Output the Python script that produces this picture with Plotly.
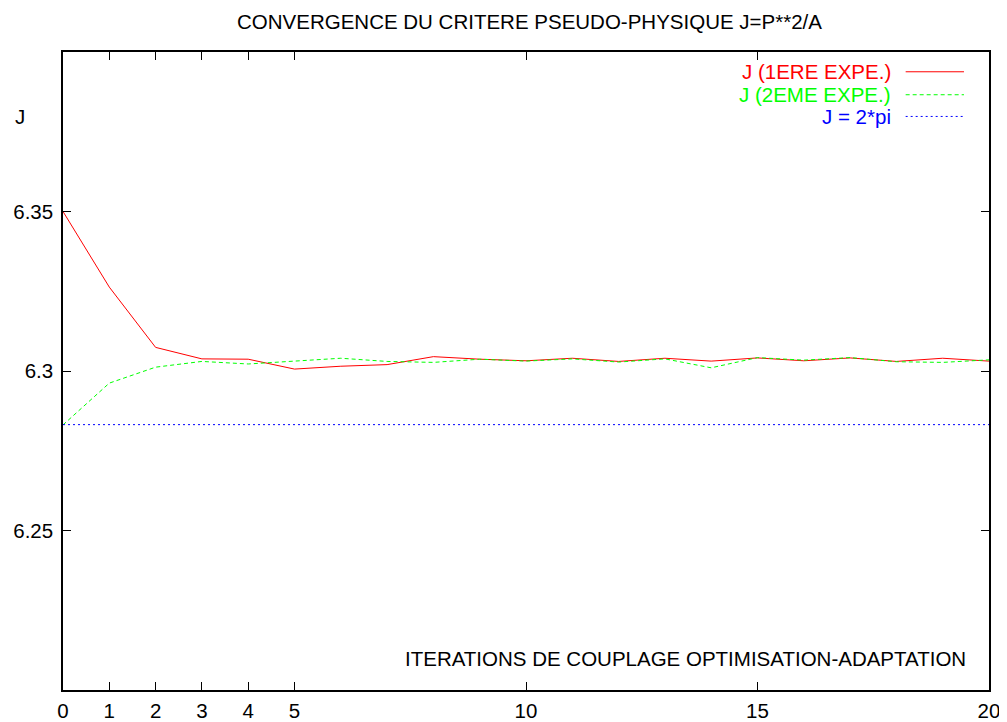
import plotly.graph_objects as go
import math

iterations = list(range(0, 21))
j_exp1 = [6.3500, 6.3263, 6.3074, 6.3038, 6.3037, 6.3006, 6.3015, 6.3020, 6.3045, 6.3037, 6.3032,
          6.3040, 6.3030, 6.3040, 6.3031, 6.3041, 6.3032, 6.3041, 6.3030, 6.3040, 6.3031]
j_exp2 = [6.2831, 6.2962, 6.3012, 6.3030, 6.3022, 6.3031, 6.3040, 6.3030, 6.3027, 6.3037, 6.3031,
          6.3038, 6.3028, 6.3038, 6.3010, 6.3042, 6.3034, 6.3042, 6.3029, 6.3027, 6.3035]
two_pi = 2 * math.pi
x_ticks = [0, 1, 2, 3, 4, 5, 10, 15, 20]
y_ticks = [6.25, 6.3, 6.35]
y_tick_text = ["6.25", "6.3", "6.35"]
legend_names = ["J (1ERE EXPE.)", "J (2EME EXPE.)", "J = 2*pi"]
colors = ["#ff0000", "#00ff00", "#0000ff"]

FONT = "Liberation Sans, Arial, sans-serif"
FS = 20.5

fig = go.Figure()
fig.add_trace(go.Scatter(x=iterations, y=j_exp1, mode="lines",
                         line=dict(color=colors[0], width=1), name=legend_names[0]))
fig.add_trace(go.Scatter(x=iterations, y=j_exp2, mode="lines",
                         line=dict(color=colors[1], width=1, dash="4px,3px"), name=legend_names[1]))
fig.add_trace(go.Scatter(x=[iterations[0], iterations[-1]], y=[two_pi, two_pi], mode="lines",
                         line=dict(color=colors[2], width=1, dash="2px,3px"), name=legend_names[2]))

axis_common = dict(showgrid=False, zeroline=False, showline=True, linecolor="black", linewidth=1.5,
                   mirror="allticks", ticks="inside", ticklen=8, tickcolor="black", tickwidth=1,
                   automargin=False,
                   tickfont=dict(family=FONT, size=FS, color="black"))

fig.update_xaxes(range=[0, 20], tickvals=x_ticks, ticktext=[str(v) for v in x_ticks],
                 ticklabelstandoff=2, **axis_common)
fig.update_yaxes(range=[6.2, 6.4], tickvals=y_ticks, ticktext=y_tick_text,
                 ticklabelstandoff=4, **axis_common)

# Legend drawn gnuplot-style: text right-aligned, sample line to the right
legend_y = [0.969, 0.933, 0.899]
legend_dash = ["solid", "4px,3px", "2px,3px"]
for name, c, yy, d in zip(legend_names, colors, legend_y, legend_dash):
    fig.add_annotation(x=0.896, y=yy, xref="paper", yref="paper", text=name, showarrow=False,
                       xanchor="right", yanchor="middle",
                       font=dict(family=FONT, size=FS, color=c))
    fig.add_shape(type="line", xref="paper", yref="paper", x0=0.910, x1=0.973, y0=yy, y1=yy,
                  line=dict(color=c, width=1, dash=d))

fig.add_annotation(x=0.977, y=0.049, xref="paper", yref="paper",
                   text="ITERATIONS DE COUPLAGE OPTIMISATION-ADAPTATION", showarrow=False,
                   xanchor="right", yanchor="middle", font=dict(family=FONT, size=FS, color="black"))
fig.add_annotation(x=-0.0464, y=0.899, xref="paper", yref="paper", text="J", showarrow=False,
                   xanchor="center", yanchor="middle", font=dict(family=FONT, size=FS, color="black"))

fig.update_layout(
    width=999, height=714,
    margin=dict(l=55, r=18, t=44, b=32, pad=0, autoexpand=False),
    paper_bgcolor="white", plot_bgcolor="white",
    showlegend=False,
    title=dict(text="CONVERGENCE DU CRITERE PSEUDO-PHYSIQUE J=P**2/A", x=0.522, xanchor="center",
               y=0.980, yanchor="middle", font=dict(family=FONT, size=FS, color="black")),
)

fig.write_html("out.html")
